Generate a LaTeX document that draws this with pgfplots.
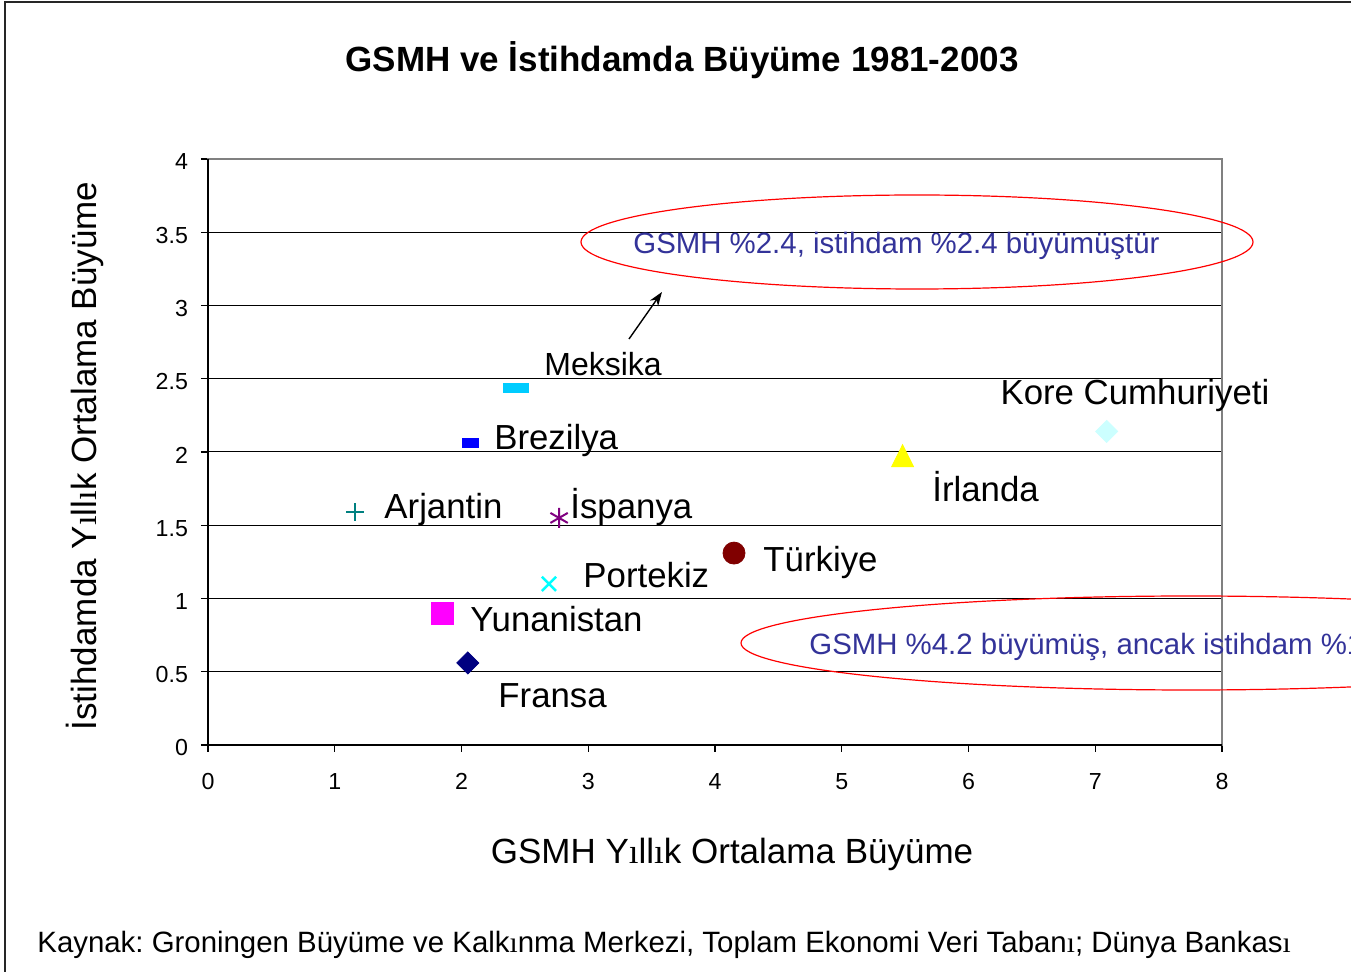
\documentclass[border=0pt]{standalone}
\usepackage{fontspec}
\setmainfont{Liberation Sans}
\newfontfamily\serifi{Liberation Serif}
\newcommand{\si}{{\serifi ı}}
\usepackage{pgfplots}
\pgfplotsset{compat=1.18}
\usetikzlibrary{arrows.meta}
\frenchspacing
\definecolor{meks}{RGB}{0,204,255}
\definecolor{brez}{RGB}{0,0,255}
\definecolor{arj}{RGB}{0,128,128}
\definecolor{isp}{RGB}{128,0,128}
\definecolor{port}{RGB}{0,255,255}
\definecolor{yun}{RGB}{255,0,255}
\definecolor{fra}{RGB}{0,0,128}
\definecolor{tur}{RGB}{128,0,0}
\definecolor{irl}{RGB}{255,255,0}
\definecolor{kore}{RGB}{204,255,255}
\definecolor{annot}{RGB}{51,51,153}
\newcommand{\lab}{\fontsize{17.4}{20}\selectfont}
\newcommand{\labm}{\fontsize{16}{19}\selectfont}
\newcommand{\ann}{\fontsize{14.7}{17}\selectfont}
\begin{document}
\begin{tikzpicture}
\useasboundingbox (0,0) rectangle (675.5pt,-486pt);
\clip (0,0) rectangle (675.5pt,-486pt);
\fill[white] (0,0) rectangle (675.5pt,-486pt);
\draw[black!85, line width=1pt] (2.5pt,-1.25pt) rectangle (700pt,-520pt);
\begin{axis}[
  at={(104pt,-372.5pt)}, anchor=south west,
  scale only axis, width=507pt, height=293pt,
  xmin=0, xmax=8, ymin=0, ymax=4,
  xtick={0,1,2,3,4,5,6,7,8},
  ytick={0,0.5,1,1.5,2,2.5,3,3.5,4},
  yticklabels={0,0.5,1,1.5,2,2.5,3,3.5,4},
  xtick pos=bottom, ytick pos=left,
  tick align=outside, major tick length=3.5pt,
  tick style={black, line width=0.6pt},
  ymajorgrids, grid style={black, line width=0.5pt},
  axis line style={black!50, line width=1.25pt},
  /pgf/number format/assume math mode=true,
  tick label style={font=\fontsize{11.6}{13}\selectfont},
  xticklabel style={yshift=-7pt},
  yticklabel style={xshift=-3pt, yshift=-1.5pt},
  clip=false,
  every axis title/.style={at={(axis description cs:0.4675,1.1485)}, anchor=base, font=\bfseries\fontsize{17.5}{21}\selectfont},
  every axis x label/.style={at={(axis description cs:0.5168,-0.2014)}, anchor=base, font=\fontsize{17.5}{21}\selectfont},
  every axis y label/.style={at={(axis description cs:-0.1095,0.4932)}, anchor=base, rotate=90, font=\fontsize{17.5}{21}\selectfont},
  title={GSMH ve İstihdamda Büyüme 1981-2003},
  xlabel={GSMH Y\si ll\si k Ortalama Büyüme},
  ylabel={İstihdamda Y\si ll\si k Ortalama Büyüme},
]
\draw[black, line width=1pt] (rel axis cs:0,1) -- (rel axis cs:0,0) -- (rel axis cs:1,0);
% Meksika
\addplot[only marks, mark=square*, mark size=2.25pt, color=meks, mark options={xscale=2.78, draw=meks, fill=meks}] coordinates {(2.43,2.44)};
% Brezilya
\addplot[only marks, mark=square*, mark size=2.25pt, color=brez, mark options={xscale=1.78, draw=brez, fill=brez}] coordinates {(2.07,2.06)};
% Arjantin
\addplot[only marks, mark=+, mark size=4.5pt, color=arj, mark options={line width=1pt}] coordinates {(1.16,1.59)};
% Ispanya
\addplot[only marks, mark=asterisk, mark size=5pt, color=isp, mark options={line width=1pt}] coordinates {(2.77,1.55)};
% Portekiz
\addplot[only marks, mark=x, mark size=5pt, color=port, mark options={line width=1.2pt}] coordinates {(2.69,1.10)};
% Yunanistan
\addplot[only marks, mark=square*, mark size=5.5pt, color=yun, mark options={draw=yun, fill=yun}] coordinates {(1.85,0.90)};
% Fransa
\addplot[only marks, mark=square*, mark size=3.9pt, color=fra, mark options={rotate=45, draw=fra, fill=fra}] coordinates {(2.05,0.56)};
% Turkiye
\addplot[only marks, mark=*, mark size=5.5pt, color=tur, mark options={draw=tur, fill=tur}] coordinates {(4.15,1.31)};
% Irlanda
\addplot[only marks, mark=triangle*, mark size=6.3pt, color=irl, mark options={yscale=1.16, draw=irl, fill=irl}] coordinates {(5.48,1.95)};
% Kore
\addplot[only marks, mark=square*, mark size=3.9pt, color=kore, mark options={rotate=45, draw=kore, fill=kore}] coordinates {(7.09,2.14)};

\node[anchor=base west, inner sep=0, font=\labm] at (axis cs:2.651,2.519) {Meksika};
\node[anchor=base west, inner sep=0, font=\lab] at (axis cs:2.256,2.014) {Brezilya};
\node[anchor=base west, inner sep=0, font=\lab] at (axis cs:1.389,1.543) {Arjantin};
\node[anchor=base west, inner sep=0, font=\lab] at (axis cs:2.856,1.543) {İspanya};
\node[anchor=base west, inner sep=0, font=\lab] at (axis cs:2.959,1.078) {Portekiz};
\node[anchor=base west, inner sep=0, font=\lab] at (axis cs:2.067,0.778) {Yunanistan};
\node[anchor=base west, inner sep=0, font=\lab] at (axis cs:2.288,0.253) {Fransa};
\node[anchor=base west, inner sep=0, font=\lab] at (axis cs:4.379,1.181) {Türkiye};
\node[anchor=base west, inner sep=0, font=\lab] at (axis cs:5.712,1.659) {İrlanda};
\node[anchor=base west, inner sep=0, font=\lab] at (axis cs:6.250,2.321) {Kore Cumhuriyeti};
\end{axis}
% annotations
\draw[red, line width=0.6pt] (458.5pt,-121pt) ellipse [x radius=168pt, y radius=23.5pt];
\node[anchor=base west, inner sep=0, font=\ann, text=annot] at (316.5pt,-127pt) {GSMH \%2.4, istihdam \%2.4 büyümüştür};
\draw[red, line width=0.6pt] (595.5pt,-321.5pt) ellipse [x radius=225pt, y radius=23.5pt];
\node[anchor=base west, inner sep=0, font=\ann, text=annot] at (404.5pt,-327.5pt) {GSMH \%4.2 büyümüş, ancak istihdam \%1.3 büyümüştür};
\draw[black, line width=0.7pt, -{Stealth[length=7pt, width=5pt]}] (314.5pt,-169.5pt) -- (331pt,-146pt);
\node[anchor=base west, inner sep=0, font=\ann] at (18.5pt,-476.5pt) {Kaynak: Groningen Büyüme ve Kalk\si nma Merkezi, Toplam Ekonomi Veri Taban\si; Dünya Bankas\si};
\end{tikzpicture}
\end{document}
